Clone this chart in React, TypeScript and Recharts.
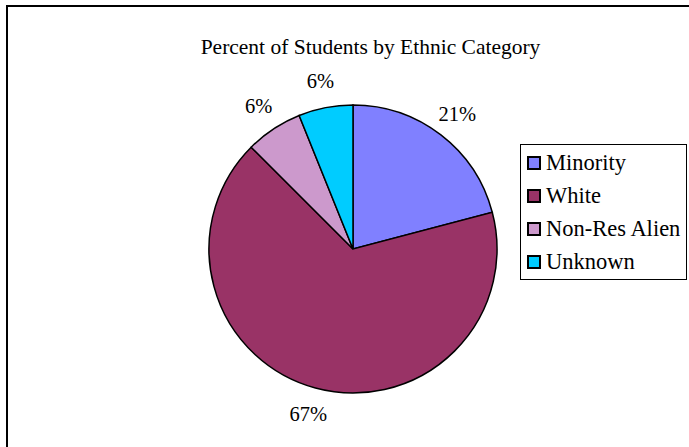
import { PieChart, Pie, Cell, Legend } from 'recharts';

const categories = ['Minority', 'White', 'Non-Res Alien', 'Unknown'];
const percents = [20.9, 66.6, 6.4, 6.1];
const sliceColors = ['#8080FF', '#993366', '#CC99CC', '#00CCFF'];

const FONT = '"Liberation Serif", "Times New Roman", serif';

const data = categories.map((name, i) => ({ name, value: percents[i] }));

const RAD = Math.PI / 180;

function renderLabel({ cx, cy, midAngle, outerRadius, percent }: any) {
  const r = outerRadius + 27;
  const x = cx + r * Math.cos(-midAngle * RAD);
  const y = cy + r * Math.sin(-midAngle * RAD);
  return (
    <text
      x={x}
      y={y}
      textAnchor="middle"
      dominantBaseline="central"
      fontFamily={FONT}
      fontSize={20.5}
      fill="#000"
    >
      {`${Math.round(percent * 100)}%`}
    </text>
  );
}

function BoxLegend({ payload }: any) {
  return (
    <div
      style={{
        border: '1.5px solid #000',
        background: '#fff',
        padding: '1px 2px 1px 6px',
        width: 157,
        fontFamily: FONT,
        fontSize: 22.5,
        color: '#000',
      }}
    >
      {(payload ?? []).map((p: any) => (
        <div key={p.value} style={{ display: 'flex', alignItems: 'center', height: 33 }}>
          <span
            style={{
              width: 10,
              height: 10,
              background: p.color,
              border: '2px solid #000',
              marginRight: 5,
              flex: 'none',
            }}
          />
          <span style={{ whiteSpace: 'nowrap' }}>{p.value}</span>
        </div>
      ))}
    </div>
  );
}

export default function App() {
  return (
    <div
      style={{
        position: 'absolute',
        left: 0,
        top: 0,
        width: 689,
        height: 447,
        overflow: 'hidden',
        background: '#fff',
      }}
    >
      <div
        style={{
          position: 'absolute',
          left: 6,
          top: 5,
          width: 720,
          height: 480,
          borderLeft: '2px solid #000',
          borderTop: '2px solid #000',
        }}
      />
      <div
        style={{
          position: 'absolute',
          left: 0,
          top: 34,
          width: 741,
          textAlign: 'center',
          fontFamily: FONT,
          fontSize: 21.5,
          lineHeight: '26px',
          color: '#000',
        }}
      >
        Percent of Students by Ethnic Category
      </div>
      <div style={{ position: 'absolute', left: 0, top: 0 }}>
        <PieChart width={689} height={447} margin={{ top: 0, right: 0, bottom: 0, left: 0 }}>
          <Pie
            data={data}
            dataKey="value"
            nameKey="name"
            cx={353}
            cy={249}
            outerRadius={144}
            startAngle={90}
            endAngle={-270}
            stroke="#000"
            strokeWidth={1.5}
            label={renderLabel}
            labelLine={false}
            isAnimationActive={false}
          >
            {data.map((d, i) => (
              <Cell key={d.name} fill={sliceColors[i]} />
            ))}
          </Pie>
          <Legend
            layout="vertical"
            align="right"
            verticalAlign="middle"
            itemSorter={null}
            content={<BoxLegend />}
            wrapperStyle={{ left: 520, top: 144, right: 'auto', width: 'auto' }}
          />
        </PieChart>
      </div>
    </div>
  );
}
